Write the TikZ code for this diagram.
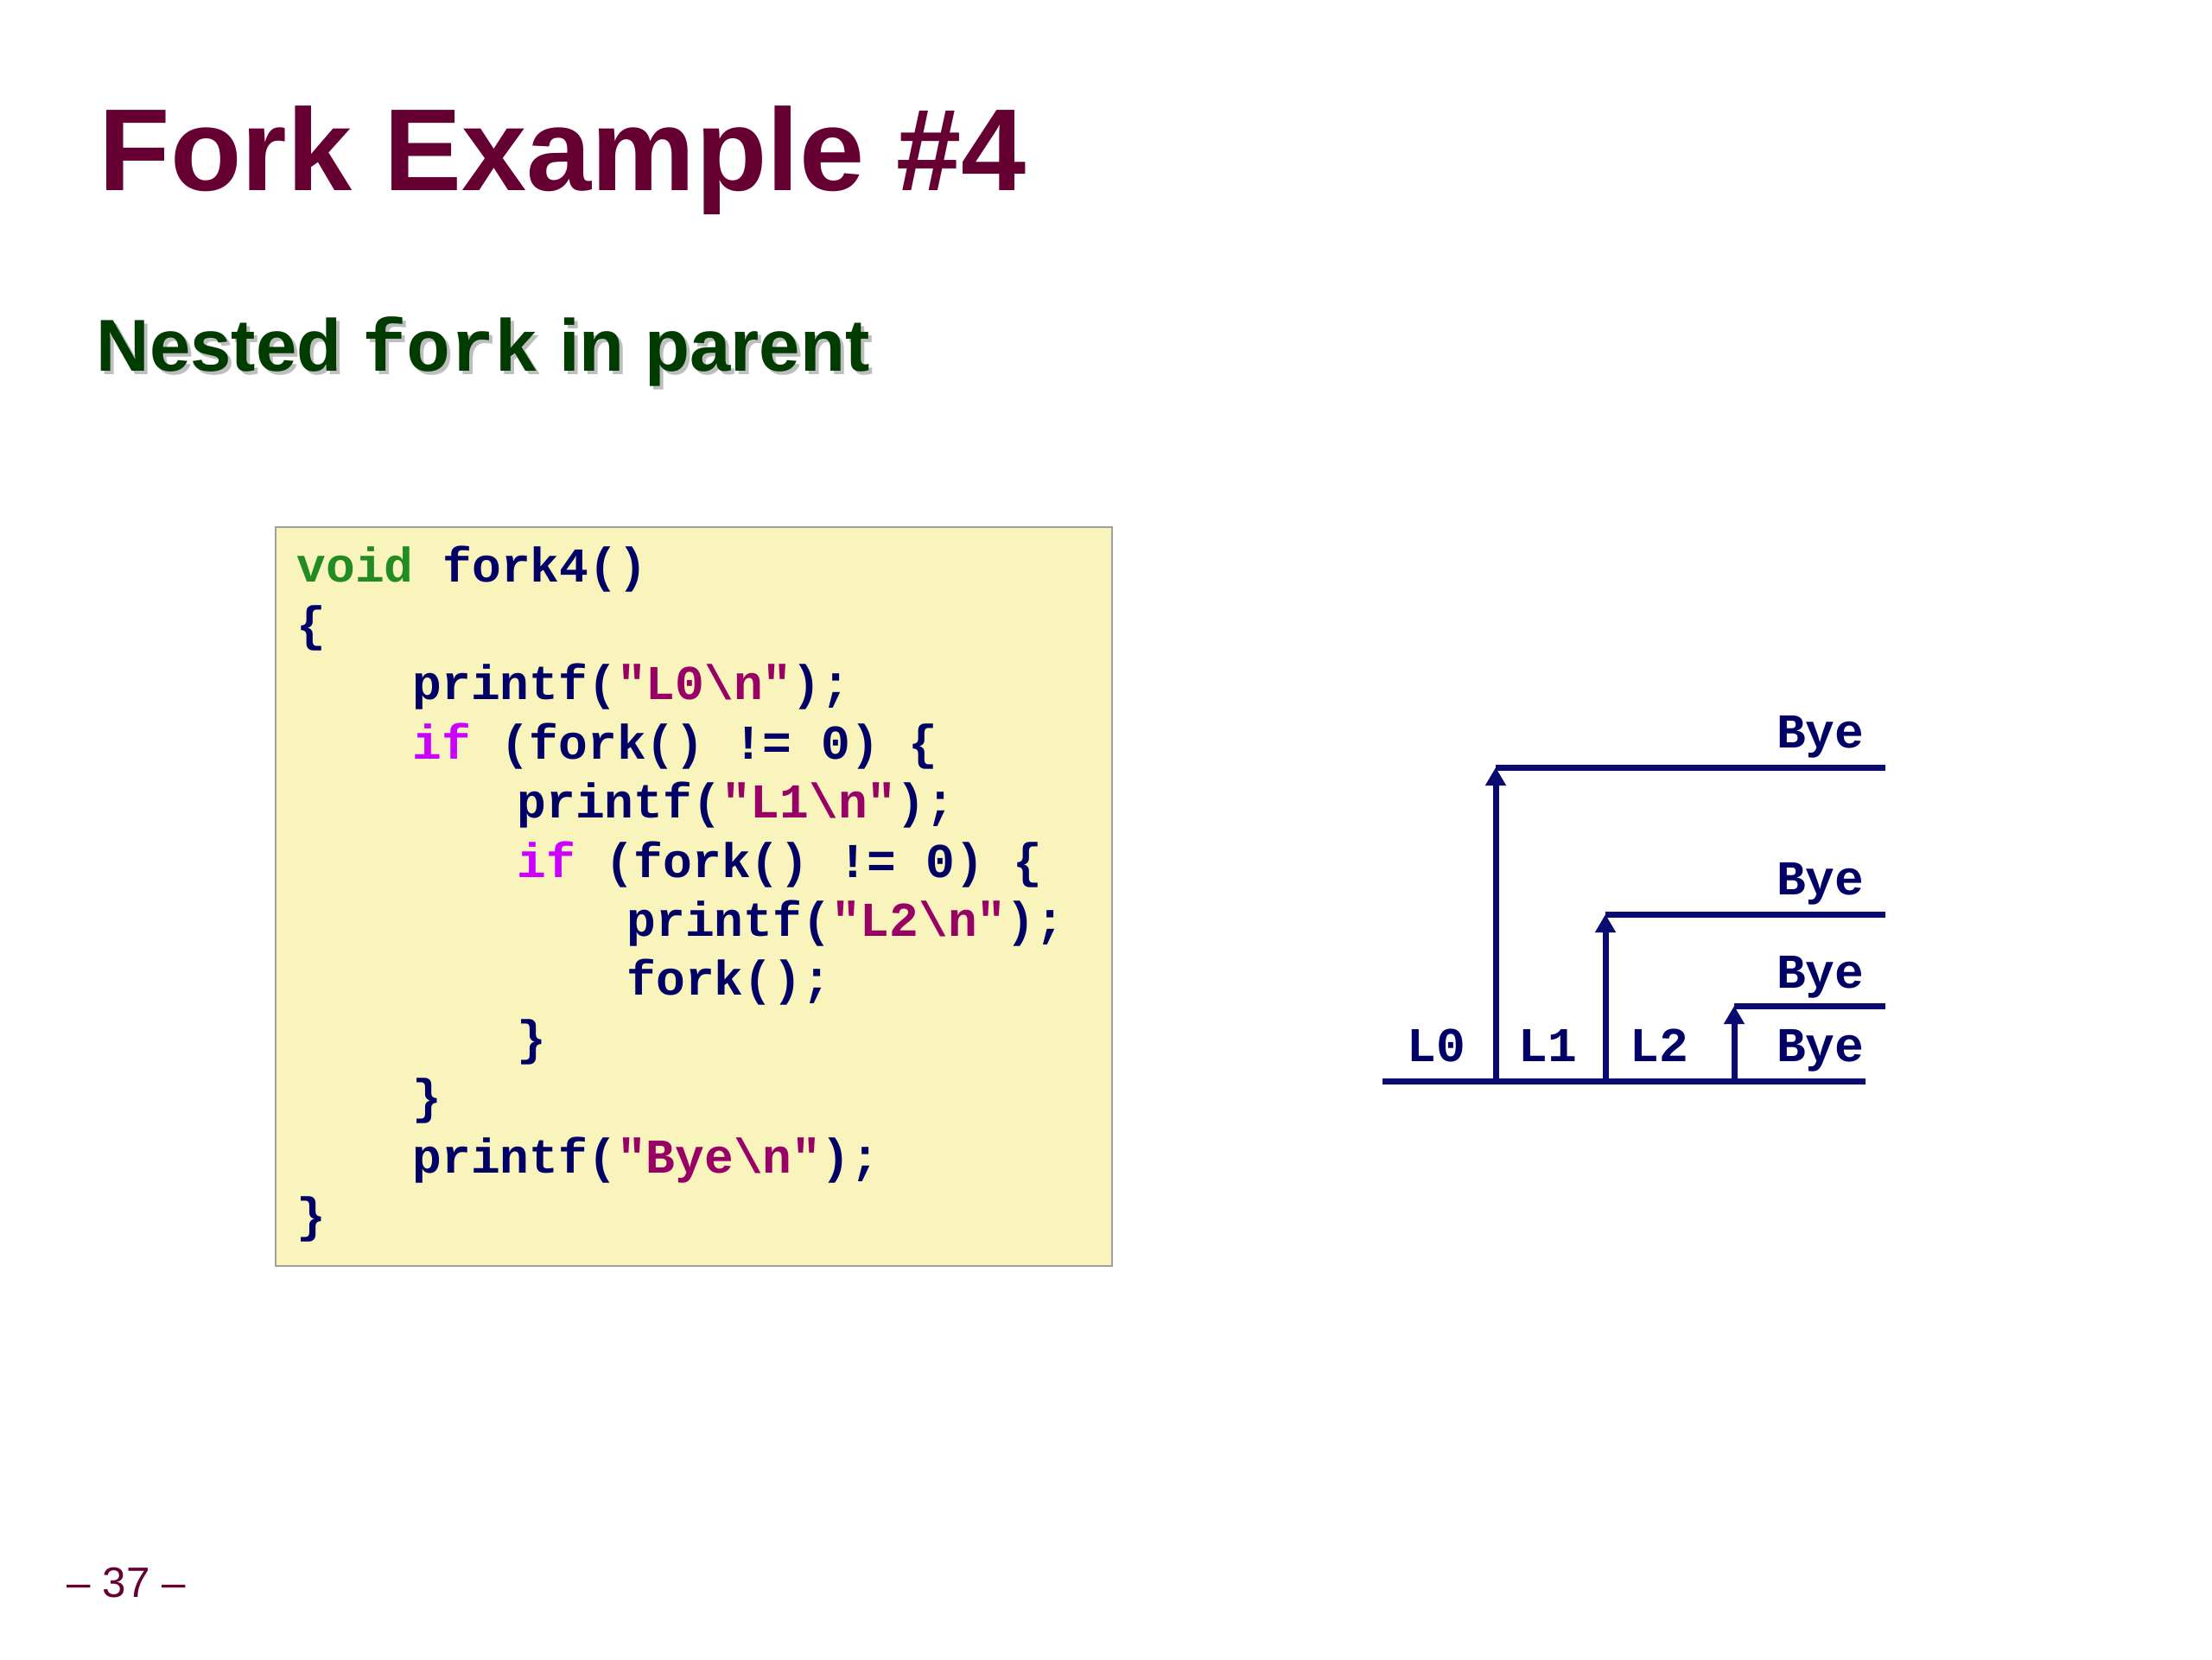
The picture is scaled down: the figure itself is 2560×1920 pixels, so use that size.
\documentclass[tikz,border=0pt]{standalone}
\usepackage{fontspec}
\setmainfont{Liberation Sans}
\setmonofont{Liberation Mono}
\usetikzlibrary{arrows.meta}
\definecolor{titlered}{RGB}{102,0,51}
\definecolor{subgreen}{RGB}{0,60,0}
\definecolor{shadowgray}{RGB}{190,190,190}
\definecolor{codebg}{RGB}{248,244,188}
\definecolor{codeframe}{RGB}{160,160,160}
\definecolor{navy}{RGB}{0,0,102}
\definecolor{kwgreen}{RGB}{34,139,34}
\definecolor{kwmag}{RGB}{204,0,255}
\definecolor{strred}{RGB}{153,0,102}
\definecolor{linenavy}{RGB}{10,10,115}
\newcommand\KW[1]{\textcolor{kwgreen}{#1}}
\newcommand\IFK{\textcolor{kwmag}{if}}
\newcommand\STR[1]{\textcolor{strred}{#1}}
\newcommand\BS{\textbackslash}
\begin{document}
\begin{tikzpicture}[x=0.01cm,y=-0.01cm,
  titletext/.style={anchor=base west,inner sep=0pt,text=titlered,font=\fontsize{38.4}{46}\selectfont\bfseries},
  subtext/.style={anchor=base west,inner sep=0pt,font=\fontsize{24.2}{29}\selectfont\bfseries},
  codebox/.style={draw=codeframe,fill=codebg,line width=0.6pt,anchor=north west,inner sep=0pt,minimum width=9.67cm,minimum height=8.54cm},
  codeline/.style={anchor=base west,inner sep=0pt,text=navy,font=\fontsize{16}{19}\selectfont\ttfamily\bfseries},
  tline/.style={draw=linenavy,line width=2pt},
  tarrow/.style={tline,-{Triangle[width=6.5pt,length=6pt]}},
  lbl/.style={anchor=base west,inner sep=0pt,text=navy,font=\fontsize{16}{19}\selectfont\ttfamily\bfseries},
  byelbl/.style={lbl,anchor=base east},
  pagenum/.style={anchor=base west,inner sep=0pt,text=titlered,font=\fontsize{14}{17}\selectfont}
]
\useasboundingbox (0,0) rectangle (2560,1920);
\fill[white] (0,0) rectangle (2560,1920);

% title
\node[titletext] (title) at (114,220) {Fork Example \#4};
\node[subtext,text=shadowgray] (subshadow) at (115,433) {Nested {\ttfamily fork} in parent};
\node[subtext,text=subgreen] (sub) at (111,429) {Nested {\ttfamily fork} in parent};

% code box
\node[codebox] (box) at (318,609) {};
\node[codeline] (c1)  at (343,673.0) {\KW{void} fork4()};
\node[codeline] (c2)  at (343,741.4) {\{};
\node[codeline] (c3)  at (477,809.8) {printf(\STR{"L0\BS n"});};
\node[codeline] (c4)  at (477,878.2) {\IFK{} (fork() != 0) \{};
\node[codeline] (c5)  at (598,946.6) {printf(\STR{"L1\BS n"});};
\node[codeline] (c6)  at (598,1015.0) {\IFK{} (fork() != 0) \{};
\node[codeline] (c7)  at (725,1083.4) {printf(\STR{"L2\BS n"});};
\node[codeline] (c8)  at (725,1151.8) {fork();};
\node[codeline] (c9)  at (598,1220.2) {\}};
\node[codeline] (c10) at (477,1288.6) {\}};
\node[codeline] (c11) at (477,1357.0) {printf(\STR{"Bye\BS n"});};
\node[codeline] (c12) at (343,1425.4) {\}};

% process graph
\coordinate (p0) at (1600,1251);
\coordinate (pend) at (2159,1251);
\coordinate (p1) at (1731,1251);
\coordinate (t1) at (1731,888);
\coordinate (e1) at (2182,888);
\coordinate (p2) at (1858,1251);
\coordinate (t2) at (1858,1058);
\coordinate (e2) at (2182,1058);
\coordinate (p3) at (2007,1251);
\coordinate (t3) at (2007,1164);
\coordinate (e3) at (2182,1164);

\draw[tline] (p0) -- (pend);
\draw[tarrow] (p1) -- (t1);
\draw[tline] (t1) -- (e1);
\draw[tarrow] (p2) -- (t2);
\draw[tline] (t2) -- (e2);
\draw[tarrow] (p3) -- (t3);
\draw[tline] (t3) -- (e3);

\node[lbl] (l0) at (1628,1228) {L0};
\node[lbl] (l1) at (1757,1228) {L1};
\node[lbl] (l2) at (1886,1228) {L2};
\node[byelbl] (b1) at (2158,865) {Bye};
\node[byelbl] (b2) at (2158,1035) {Bye};
\node[byelbl] (b3) at (2158,1143) {Bye};
\node[byelbl] (b4) at (2158,1228) {Bye};

\node[pagenum] (page) at (77,1848) {– 37 –};
\end{tikzpicture}
\end{document}
